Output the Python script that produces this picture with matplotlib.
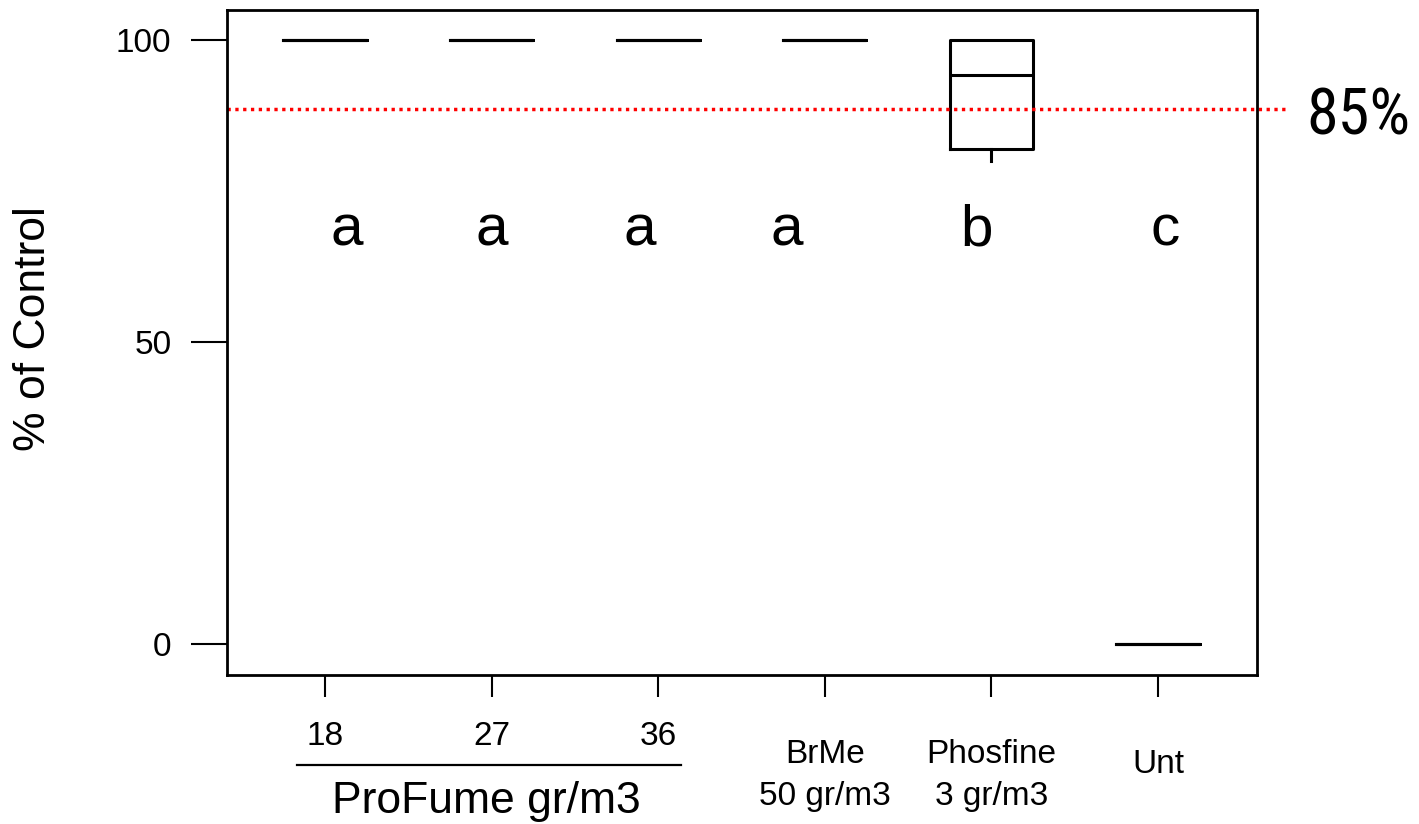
import matplotlib
matplotlib.use('Agg')
import matplotlib.pyplot as plt
from matplotlib import font_manager
from matplotlib.transforms import blended_transform_factory

# ---- data ----
group_labels = ['18', '27', '36', 'BrMe\n50 gr/m3', 'Phosfine\n3 gr/m3', 'Unt']
whislo = [100, 100, 100, 100, 80.0, 0]
q1 = [100, 100, 100, 100, 82.0, 0]
med = [100, 100, 100, 100, 94.2, 0]
q3 = [100, 100, 100, 100, 100, 0]
whishi = [100, 100, 100, 100, 100, 0]
sig_letters = ['a', 'a', 'a', 'a', 'b', 'c']
sig_letter_x = [1.13, 2.0, 2.89, 3.77, 4.91, 6.04]
sig_letter_y = 66
threshold = 88.6
threshold_label = '85%'
yticks = [0, 50, 100]
group_title = 'ProFume gr/m3'

names = {f.name for f in font_manager.fontManager.ttflist}
narrow = 'Liberation Sans'
for cand in ['Liberation Sans Narrow', 'Roboto Condensed', 'Open Sans Condensed',
             'DejaVu Sans Condensed']:
    if cand in names:
        narrow = cand
        break
plt.rcParams['font.family'] = ['Liberation Sans', 'DejaVu Sans']

W, H = 1419, 824
fig = plt.figure(figsize=(W / 100, H / 100), dpi=100)
ax = fig.add_axes([227 / W, 1 - 675 / H, (1257 - 227) / W, (675 - 10) / H])

positions = list(range(1, len(group_labels) + 1))
stats = [dict(whislo=a, q1=b, med=c, q3=d, whishi=e, fliers=[])
         for a, b, c, d, e in zip(whislo, q1, med, q3, whishi)]
lp = dict(color='black', linewidth=2.2)
ax.bxp(stats, positions=positions, widths=0.5, showcaps=False, showfliers=False,
       boxprops=lp, medianprops=lp, whiskerprops=lp)

ax.set_xlim(0.412, 6.594)
ax.set_ylim(-5.13, 104.97)
ax.set_yticks(yticks)
ax.set_yticklabels([str(v) for v in yticks])
ax.set_xticks(positions)
ax.set_xticklabels([''] * len(positions))
ax.tick_params(axis='y', length=26, width=1.5, pad=14, labelsize=24)
ax.tick_params(axis='x', length=16, width=1.5, labelbottom=False)
for s in ax.spines.values():
    s.set_linewidth(2)

# threshold line
ax.plot([0.412, 6.77], [threshold, threshold], color='red', lw=2.5,
        ls=(0, (0.95, 1.3)), dash_capstyle='butt', clip_on=False)
thr_text = ax.text(6.89, 84.4, threshold_label, fontsize=47, family=narrow,
                   ha='left', va='baseline', clip_on=False)

# significance letters
for x, l in zip(sig_letter_x, sig_letters):
    ax.text(x, sig_letter_y, l, fontsize=42, ha='center', va='baseline')

# x labels
tr = blended_transform_factory(ax.transData, fig.transFigure)
for p, lab in zip(positions, group_labels):
    lines = lab.split('\n')
    if p <= 3:
        bases = [745]
    elif len(lines) == 2:
        bases = [763, 805]
    else:
        bases = [773]
    for ln, b in zip(lines, bases):
        ax.text(p, 1 - b / H, ln, transform=tr, fontsize=24, ha='center',
                va='baseline', clip_on=False)

# ProFume group underline & title
ax.plot([0.832, 3.137], [1 - 765 / H] * 2, transform=tr, color='black', lw=1.6,
        clip_on=False)
ax.text(1.97, 1 - 813 / H, group_title, transform=tr, fontsize=32, ha='center',
        va='baseline', clip_on=False)

fig.text(34 / W, 1 - 329 / H, '% of Control', rotation=90, fontsize=32,
         ha='center', va='center')

# make the threshold label fit the space the reference gives it (~104 px)
fig.canvas.draw()
wpx = thr_text.get_window_extent(fig.canvas.get_renderer()).width
if wpx > 104:
    thr_text.set_fontsize(47 * 104 / wpx)

fig.savefig('out.png', dpi=100)
